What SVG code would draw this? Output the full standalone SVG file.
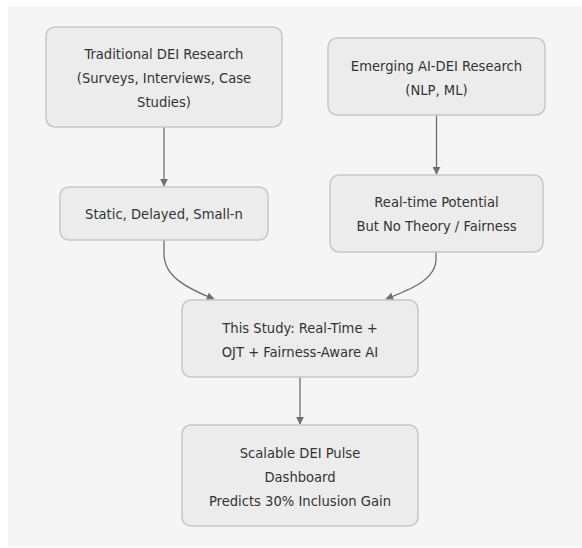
<svg xmlns="http://www.w3.org/2000/svg" width="582" height="548" viewBox="0 0 582 548">
<style>
.node rect{fill:#ececec;stroke:#c8c8c8;stroke-width:1.5}
.node text{font-family:"DejaVu Sans Condensed","Liberation Sans Narrow","Liberation Sans",sans-serif;font-size:14.6px;fill:#333;text-anchor:middle}
.edge{fill:none;stroke:#707070;stroke-width:1.3}
</style>
<defs>
<marker id="ah" viewBox="0 0 10 10" refX="9" refY="5" markerWidth="8" markerHeight="8" markerUnits="userSpaceOnUse" orient="auto">
<path d="M0,0 L10,5 L0,10 z" fill="#707070"/>
</marker>
</defs>
<rect x="8" y="6" width="574" height="541" fill="#f5f5f5"/>
<g id="connectors">
<path class="edge" d="M164,127 L164,186" marker-end="url(#ah)"/>
<path class="edge" d="M436.5,115 L436.5,174" marker-end="url(#ah)"/>
<path class="edge" d="M164,240 L164,254 C164,276 186,288 214,299" marker-end="url(#ah)"/>
<path class="edge" d="M436,252 L436,259 C436,279 412,289 386,299" marker-end="url(#ah)"/>
<path class="edge" d="M300,377 L300,424" marker-end="url(#ah)"/>
</g>
<g id="n1" class="node"><rect x="46" y="27" width="236" height="100" rx="9"/>
<text x="164" y="58.5">Traditional DEI Research</text><text x="164" y="82.5">(Surveys, Interviews, Case</text><text x="164" y="106.5">Studies)</text></g>
<g id="n2" class="node"><rect x="328" y="38" width="217" height="77" rx="9"/>
<text x="436.5" y="70.5">Emerging AI-DEI Research</text><text x="436.5" y="94.5">(NLP, ML)</text></g>
<g id="n3" class="node"><rect x="60" y="187" width="208" height="53" rx="9"/>
<text x="164" y="218.5">Static, Delayed, Small-n</text></g>
<g id="n4" class="node"><rect x="330" y="175" width="213" height="77" rx="9"/>
<text x="436.5" y="206.5">Real-time Potential</text><text x="436.5" y="230.5">But No Theory / Fairness</text></g>
<g id="n5" class="node"><rect x="182" y="300" width="236" height="77" rx="9"/>
<text x="300" y="332.5">This Study: Real-Time +</text><text x="300" y="356.5">OJT + Fairness-Aware AI</text></g>
<g id="n6" class="node"><rect x="182" y="425" width="236" height="101" rx="9"/>
<text x="300" y="457.5">Scalable DEI Pulse</text><text x="300" y="481.5">Dashboard</text><text x="300" y="505.5">Predicts 30% Inclusion Gain</text></g>
</svg>
